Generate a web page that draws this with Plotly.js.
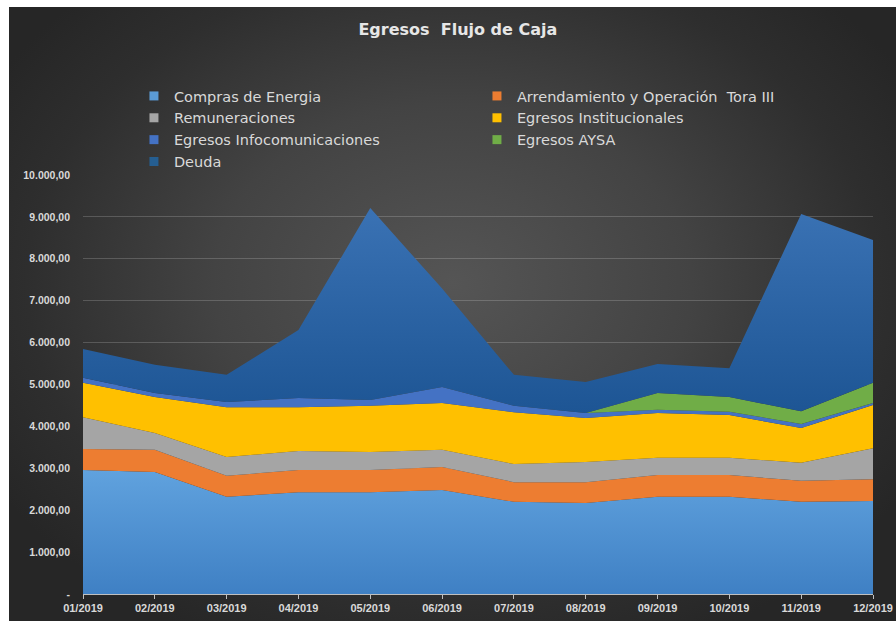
<!DOCTYPE html>
<html>
<head>
<meta charset="utf-8">
<script src="https://cdn.plot.ly/plotly-3.0.1.min.js"></script>
<style>
  html, body { margin: 0; padding: 0; background: #ffffff; width: 896px; height: 621px; overflow: hidden; }
  #bg { position: absolute; left: 9px; top: 7px; width: 887px; height: 614px;
        background: radial-gradient(ellipse 60% 65% at 50% 45%, #555555 0%, #434343 45%, #2e2e2e 80%, #262626 100%); }
  #chart { position: absolute; left: 0; top: 0; width: 896px; height: 621px; }
</style>
</head>
<body>
<div id="bg"></div>
<div id="chart"></div>
<script>
const months = ["01/2019","02/2019","03/2019","04/2019","05/2019","06/2019","07/2019","08/2019","09/2019","10/2019","11/2019","12/2019"];
const comprasEnergia   = [2960, 2910, 2320, 2430, 2430, 2480, 2200, 2170, 2320, 2320, 2200, 2220];
const arrendamiento    = [500, 530, 500, 530, 530, 550, 470, 500, 520, 520, 500, 520];
const remuneraciones   = [760, 400, 450, 450, 430, 410, 430, 480, 410, 410, 430, 740];
const institucionales  = [820, 860, 1190, 1050, 1100, 1120, 1240, 1050, 1070, 1020, 830, 1030];
const infocomunic      = [120, 100, 120, 220, 140, 380, 150, 120, 80, 80, 100, 50];
const aysa             = [0, 0, 0, 0, 0, 0, 0, 0, 400, 350, 300, 480];
const deuda            = [690, 670, 650, 1620, 4580, 2350, 740, 740, 690, 690, 4710, 3410];
const yTickVals  = [0, 1000, 2000, 3000, 4000, 5000, 6000, 7000, 8000, 9000, 10000];
const yTickText  = ["-", "1.000,00", "2.000,00", "3.000,00", "4.000,00", "5.000,00", "6.000,00", "7.000,00", "8.000,00", "9.000,00", "10.000,00"];

const series = [
  {name: 'Compras de Energia', y: comprasEnergia, color: '#5b9bd5', grad: [[0, '#3f80c4'], [1, '#60a2de']]},
  {name: 'Arrendamiento y Operación  Tora III', y: arrendamiento, color: '#ed7d31'},
  {name: 'Remuneraciones', y: remuneraciones, color: '#a5a5a5'},
  {name: 'Egresos Institucionales', y: institucionales, color: '#ffc000'},
  {name: 'Egresos Infocomunicaciones', y: infocomunic, color: '#4472c4'},
  {name: 'Egresos AYSA', y: aysa, color: '#70ad47'},
  {name: 'Deuda', y: deuda, color: '#255e91', grad: [[0, '#1d5594'], [1, '#3a72b4']]}
];

const data = [];
series.forEach(s => {
  const t = {
    type: 'scatter', mode: 'lines', x: months, y: s.y, name: s.name,
    stackgroup: 'one', line: {width: 0, color: s.color}, fillcolor: s.color,
    showlegend: false, hoverinfo: 'x+y+name'
  };
  if (s.grad) t.fillgradient = {type: 'vertical', colorscale: s.grad};
  data.push(t);
});
// legend entries with square swatches
series.forEach(s => {
  data.push({type: 'scatter', mode: 'markers', x: [null], y: [null], name: s.name,
             marker: {symbol: 'square', size: 9, color: s.color}, showlegend: true, hoverinfo: 'skip'});
});

const layout = {
  width: 896, height: 621,
  paper_bgcolor: 'rgba(0,0,0,0)', plot_bgcolor: 'rgba(0,0,0,0)',
  margin: {l: 83, r: 23, t: 175, b: 27},
  title: {text: 'Egresos  Flujo de Caja', x: 0.511, xanchor: 'center', y: 0.952, yanchor: 'middle',
          font: {family: 'DejaVu Sans', size: 16, color: '#e6e6e6', weight: 'bold'}},
  showlegend: true,
  legend: {orientation: 'h', traceorder: 'normal', xref: 'paper', yref: 'paper',
           x: 0.0645, y: 1.2267, xanchor: 'left', yanchor: 'top', entrywidth: 298, entrywidthmode: 'pixels',
           itemwidth: 30, tracegroupgap: 0,
           bgcolor: 'rgba(0,0,0,0)', font: {family: 'DejaVu Sans', size: 14.5, color: '#d9d9d9'}},
  xaxis: {type: 'category', range: [0, 11], showgrid: false, zeroline: false,
          showline: true, linecolor: '#bfbfbf', linewidth: 1,
          ticks: 'outside', ticklen: 4, tickcolor: '#bfbfbf',
          tickfont: {family: 'Liberation Sans', size: 11, color: '#d9d9d9', weight: 'bold'}},
  yaxis: {range: [0, 10000], tickvals: yTickVals, ticktext: yTickText,
          showgrid: true, gridcolor: 'rgba(255,255,255,0.18)', gridwidth: 1, zeroline: false,
          showline: false, ticks: '', ticklabelstandoff: 12,
          tickfont: {family: 'Liberation Sans', size: 10.5, color: '#d9d9d9', weight: 'bold'}},
  hovermode: 'x'
};

Plotly.newPlot('chart', data, layout, {displayModeBar: false});
</script>
</body>
</html>
